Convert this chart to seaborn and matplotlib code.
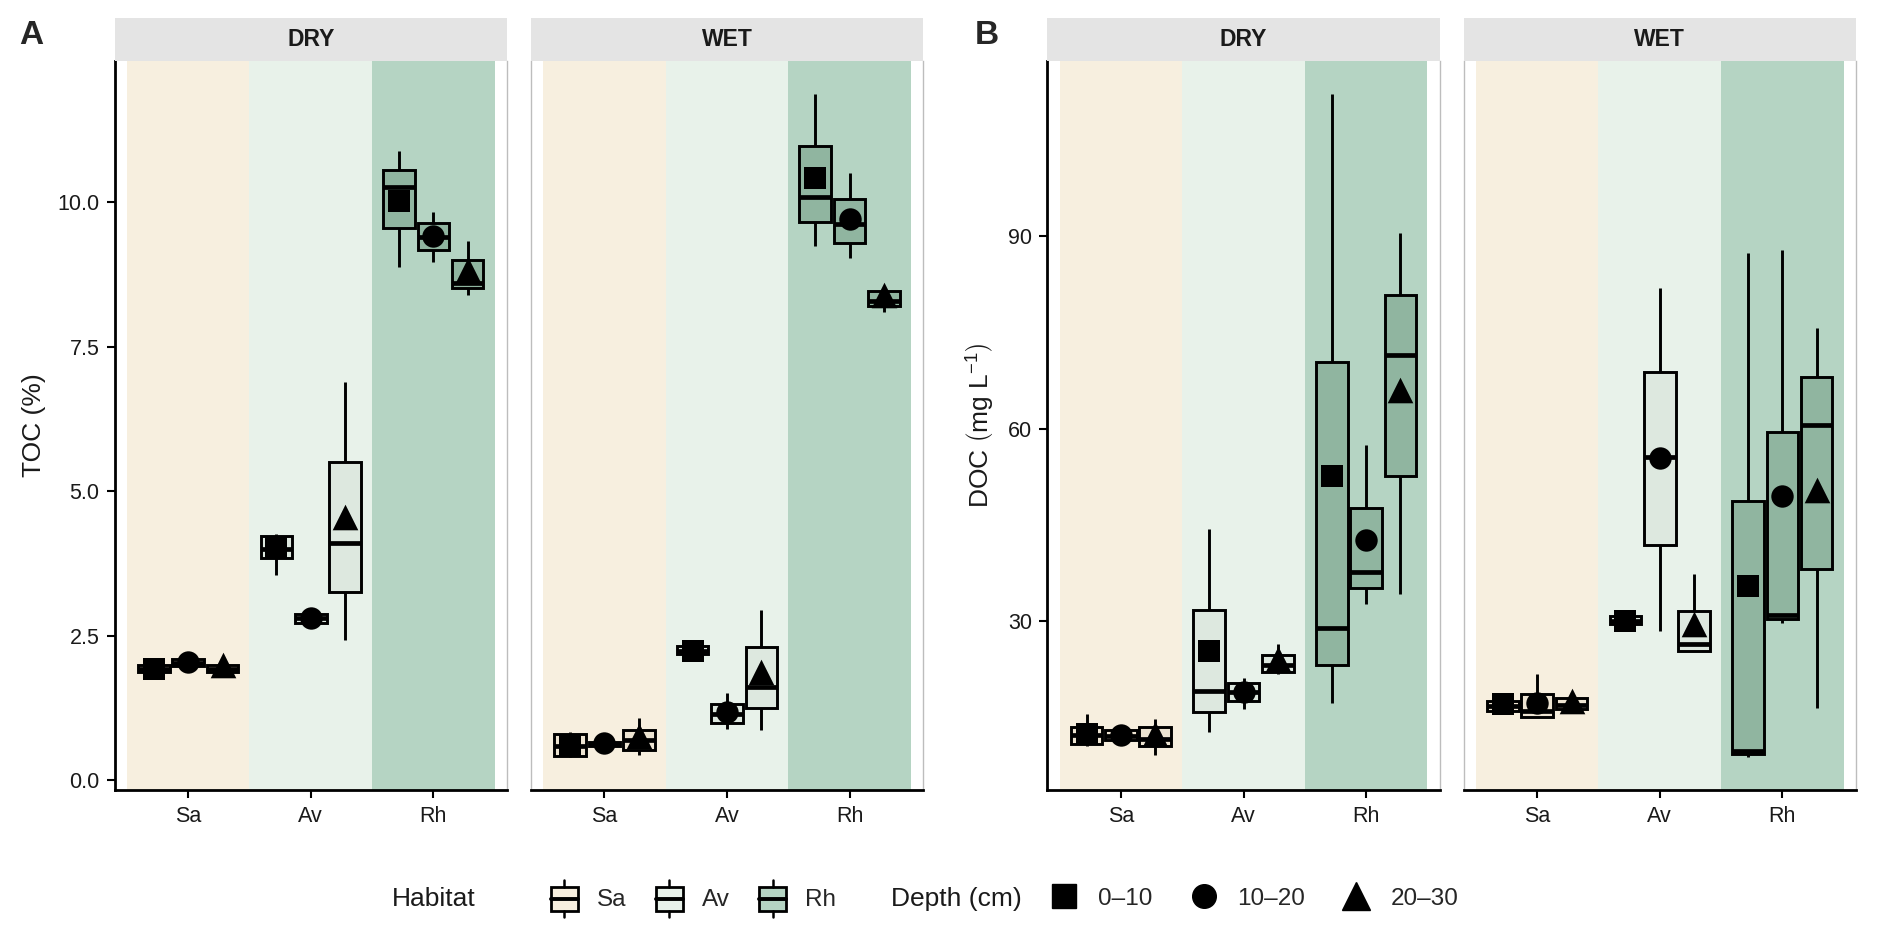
import numpy as np
import pandas as pd
import matplotlib
matplotlib.use('Agg')
import matplotlib.pyplot as plt
import seaborn as sns
from matplotlib.patches import Patch, Rectangle
from matplotlib.lines import Line2D
from matplotlib.legend_handler import HandlerBase

habitats = ['Sa', 'Av', 'Rh']
depths = ['0–10', '10–20', '20–30']
seasons = ['DRY', 'WET']

# box stats, order: Sa(0-10,10-20,20-30), Av(...), Rh(...)
# TOC (%)
toc_dry_lo   = [1.82, 1.93, 1.85, 3.56, 2.70, 2.42, 8.89, 8.96, 8.40]
toc_dry_q1   = [1.87, 1.97, 1.87, 3.84, 2.72, 3.25, 9.55, 9.17, 8.51]
toc_dry_med  = [1.93, 2.03, 1.93, 4.00, 2.80, 4.10, 10.26, 9.40, 8.60]
toc_dry_q3   = [2.00, 2.10, 1.99, 4.22, 2.88, 5.50, 10.56, 9.64, 9.01]
toc_dry_hi   = [2.02, 2.12, 2.00, 4.27, 2.90, 6.90, 10.89, 9.84, 9.34]
toc_dry_mean = [1.93, 2.05, 1.99, 4.03, 2.80, 4.55, 10.02, 9.41, 8.83]

toc_wet_lo   = [0.40, 0.58, 0.44, 2.16, 0.89, 0.87, 9.25, 9.03, 8.10]
toc_wet_q1   = [0.42, 0.60, 0.53, 2.18, 0.99, 1.25, 9.66, 9.30, 8.20]
toc_wet_med  = [0.60, 0.63, 0.70, 2.24, 1.15, 1.61, 10.10, 9.63, 8.29]
toc_wet_q3   = [0.80, 0.67, 0.87, 2.32, 1.32, 2.30, 10.98, 10.05, 8.47]
toc_wet_hi   = [0.84, 0.70, 1.07, 2.34, 1.51, 2.94, 11.88, 10.51, 8.52]
toc_wet_mean = [0.60, 0.64, 0.76, 2.24, 1.18, 1.87, 10.42, 9.72, 8.40]

# DOC (mg/L)
doc_dry_lo   = [10.6, 11.3, 9.2, 12.7, 16.3, 21.7, 17.3, 32.7, 34.3]
doc_dry_q1   = [10.9, 11.5, 10.5, 15.8, 17.6, 22.1, 23.1, 35.1, 52.7]
doc_dry_med  = [12.3, 12.1, 11.6, 19.1, 18.9, 23.1, 29.0, 37.7, 71.5]
doc_dry_q3   = [13.5, 13.0, 13.5, 31.8, 20.3, 24.7, 70.4, 47.7, 80.9]
doc_dry_hi   = [15.6, 13.2, 14.7, 44.4, 21.2, 26.4, 112.2, 57.5, 90.5]
doc_dry_mean = [12.4, 12.2, 12.4, 25.4, 19.0, 24.1, 52.7, 42.6, 66.1]

doc_wet_lo   = [15.6, 15.0, 16.1, 29.4, 28.4, 25.4, 8.8, 29.7, 16.5]
doc_wet_q1   = [16.0, 15.1, 16.3, 29.6, 41.9, 25.4, 9.3, 30.3, 38.2]
doc_wet_med  = [16.8, 16.0, 17.0, 30.1, 55.6, 26.4, 9.8, 31.0, 60.5]
doc_wet_q3   = [17.6, 18.7, 18.05, 30.8, 68.8, 31.6, 48.8, 59.5, 68.1]
doc_wet_hi   = [17.9, 21.7, 18.2, 31.0, 82.0, 37.4, 87.4, 87.9, 75.7]
doc_wet_mean = [17.1, 17.3, 17.6, 30.1, 55.4, 29.6, 35.5, 49.5, 50.5]

bg_cols = ['#F7EFDF', '#E8F2EA', '#B5D4C3']
box_cols = ['#F2E6CD', '#DBEADE', '#8ABB9F']
markers = ['s', 'o', '^']
msizes = [250, 260, 340]
TXT = '#1a1a1a'


class BoxKey(HandlerBase):
    # little boxplot glyph for the Habitat legend
    def create_artists(self, legend, orig, xd, yd, width, height, fontsize, trans):
        x0, y0 = -xd, -yd
        cx = x0 + width / 2
        rect = Rectangle((x0 + width * 0.08, y0 + height * 0.18), width * 0.84, height * 0.64,
                         facecolor=orig.get_facecolor(), edgecolor='black', lw=2.0,
                         transform=trans)
        top = Line2D([cx, cx], [y0 + height * 0.82, y0 + height * 1.0], color='black',
                     lw=1.8, transform=trans)
        bot = Line2D([cx, cx], [y0, y0 + height * 0.18], color='black', lw=1.8,
                     transform=trans)
        med = Line2D([x0 + width * 0.08, x0 + width * 0.92], [y0 + height / 2] * 2,
                     color='black', lw=2.8, transform=trans)
        return [rect, top, bot, med]


def long_table(lo, q1, med, q3, hi):
    rows = []
    for i, h in enumerate(habitats):
        for j, d in enumerate(depths):
            k = i * 3 + j
            for v in (lo[k], q1[k], med[k], q3[k], hi[k]):
                rows.append({'Habitat': h, 'Depth': d, 'value': v})
    return pd.DataFrame(rows)


def draw_facet(ax, df, means, ylim, first):
    for i in range(len(habitats)):
        ax.axvspan(i - 0.5, i + 0.5, color=bg_cols[i], lw=0, zorder=0)
    for i, h in enumerate(habitats):
        sub = df[df['Habitat'] == h]
        sns.boxplot(data=sub, x='Habitat', y='value', hue='Depth',
                    order=habitats, hue_order=depths, palette=[box_cols[i]] * 3,
                    width=0.84, gap=0.08, whis=(0, 100), linewidth=2.1,
                    linecolor='black', showcaps=False, fliersize=0,
                    medianprops=dict(linewidth=3.4), legend=False, ax=ax, zorder=2)
    offs = (np.arange(len(depths)) - 1) * 0.84 / len(depths)
    for i in range(len(habitats)):
        for j in range(len(depths)):
            ax.scatter(i + offs[j], means[i * 3 + j], marker=markers[j], s=msizes[j],
                       color='black', linewidths=0, zorder=4)
    ax.set_xlim(-0.6, 2.6)
    ax.set_ylim(ylim)
    ax.set_xlabel('')
    ax.set_ylabel('')
    ax.spines['top'].set_visible(False)
    ax.spines['bottom'].set_color('black')
    ax.spines['bottom'].set_linewidth(2.0)
    ax.spines['right'].set_color('#BDBDBD')
    ax.spines['right'].set_linewidth(1.0)
    if first:
        ax.spines['left'].set_color('black')
        ax.spines['left'].set_linewidth(2.0)
    else:
        ax.spines['left'].set_color('#BDBDBD')
        ax.spines['left'].set_linewidth(1.0)
    ax.tick_params(axis='both', direction='out', length=6, width=1.5, color='black',
                   labelsize=15.5, labelcolor=TXT, bottom=True, left=first,
                   labelleft=first, pad=5)


def span(stats):
    lo = min(min(s) for s in stats)
    hi = max(max(s) for s in stats)
    r = hi - lo
    return (lo - 0.05 * r, hi + 0.05 * r)


sns.set_theme(style='white')
plt.rcParams['font.family'] = ['Liberation Sans', 'DejaVu Sans']
plt.rcParams['mathtext.fontset'] = 'custom'
plt.rcParams['mathtext.rm'] = 'Liberation Sans'
plt.rcParams['mathtext.it'] = 'Liberation Sans:italic'

fig = plt.figure(figsize=(18.92, 9.46), dpi=100)

bottom, top, strip_h = 0.1645, 0.936, 0.045
lefts = [0.0606, 0.2806, 0.5536, 0.7736]
w = 0.2073

toc_lim = span([toc_dry_lo, toc_dry_hi, toc_wet_lo, toc_wet_hi])
doc_lim = span([doc_dry_lo, doc_dry_hi, doc_wet_lo, doc_wet_hi])

facets = [
    (long_table(toc_dry_lo, toc_dry_q1, toc_dry_med, toc_dry_q3, toc_dry_hi), toc_dry_mean, toc_lim, True, 'DRY'),
    (long_table(toc_wet_lo, toc_wet_q1, toc_wet_med, toc_wet_q3, toc_wet_hi), toc_wet_mean, toc_lim, False, 'WET'),
    (long_table(doc_dry_lo, doc_dry_q1, doc_dry_med, doc_dry_q3, doc_dry_hi), doc_dry_mean, doc_lim, True, 'DRY'),
    (long_table(doc_wet_lo, doc_wet_q1, doc_wet_med, doc_wet_q3, doc_wet_hi), doc_wet_mean, doc_lim, False, 'WET'),
]

axes = []
for k, (df, means, lim, first, season) in enumerate(facets):
    ax = fig.add_axes([lefts[k], bottom, w, top - bottom])
    draw_facet(ax, df, means, lim, first)
    sax = fig.add_axes([lefts[k], top, w, strip_h])
    sax.set_facecolor('#E4E4E4')
    sax.set_xticks([])
    sax.set_yticks([])
    for s in sax.spines.values():
        s.set_visible(False)
    sax.text(0.5, 0.5, season, ha='center', va='center', fontsize=16.5,
             fontweight='bold', color=TXT, transform=sax.transAxes)
    axes.append(ax)

axes[0].set_yticks([0, 2.5, 5, 7.5, 10])
axes[0].set_yticklabels(['0.0', '2.5', '5.0', '7.5', '10.0'])
axes[1].set_yticks([0, 2.5, 5, 7.5, 10])
axes[2].set_yticks([30, 60, 90])
axes[3].set_yticks([30, 60, 90])
axes[0].set_ylabel('TOC (%)', fontsize=19, color=TXT, labelpad=8)
axes[2].set_ylabel(r'DOC $\left(\mathrm{mg\ L^{-1}}\right)$', fontsize=19,
                   color=TXT, labelpad=8)

fig.text(0.010, 0.962, 'A', fontsize=24, fontweight='bold', va='center')
fig.text(0.515, 0.962, 'B', fontsize=24, fontweight='bold', va='center')

# legends
hab_handles = [Patch(facecolor=bg_cols[i], edgecolor='black') for i in range(3)]
dep_handles = [Line2D([], [], marker=markers[j], color='black', linestyle='none',
                      markersize=17 if j < 2 else 20) for j in range(3)]
fig.text(0.207, 0.05, 'Habitat', fontsize=19, va='center', color=TXT)
fig.legend(hab_handles, habitats, loc='center left', bbox_to_anchor=(0.290, 0.05),
           ncol=3, frameon=False, fontsize=17.5, handlelength=1.3, handleheight=2.0,
           columnspacing=1.1, handletextpad=0.7, borderpad=0, borderaxespad=0,
           handler_map={Patch: BoxKey()})
fig.text(0.4707, 0.05, 'Depth (cm)', fontsize=19, va='center', color=TXT)
fig.legend(dep_handles, depths, loc='center left', bbox_to_anchor=(0.556, 0.05),
           ncol=3, frameon=False, fontsize=17.5, handlelength=1.0,
           columnspacing=1.6, handletextpad=0.9, borderpad=0, borderaxespad=0)

fig.savefig('out.png', dpi=100)
